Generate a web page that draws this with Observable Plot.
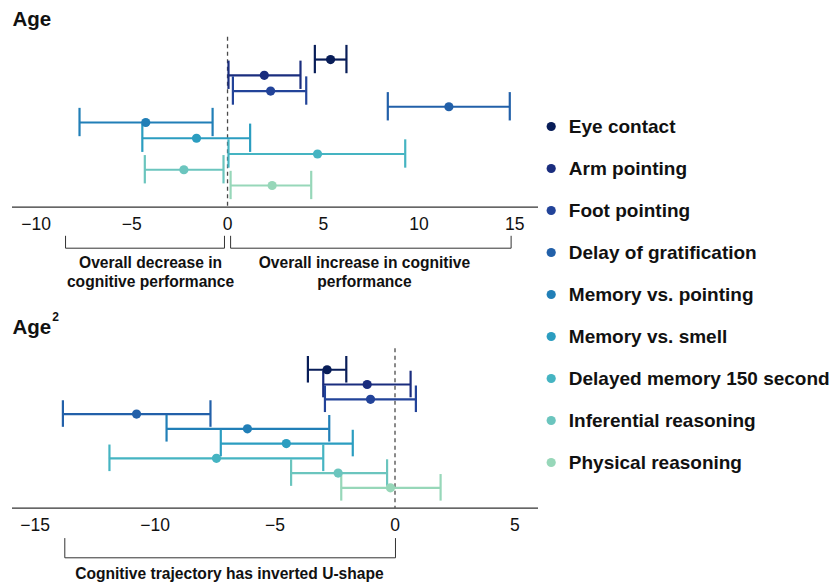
<!DOCTYPE html>
<html>
<head>
<meta charset="utf-8">
<script src="https://cdn.jsdelivr.net/npm/d3@7"></script>
<script src="https://cdn.jsdelivr.net/npm/@observablehq/plot@0.6"></script>
<style>
  html, body { margin: 0; padding: 0; background: #fff; }
  #root { position: relative; width: 829px; height: 583px; overflow: hidden;
          font-family: "Liberation Sans", Arial, Helvetica, sans-serif; color: #111; }
  .title { position: absolute; left: 12.5px; font-weight: bold; font-size: 20.5px; line-height: 20.5px; white-space: nowrap; }
  .title .sup { font-size: 12px; position: relative; top: -13px; margin-left: 1px; }
  .panel { position: absolute; left: 0; }
  #legend { position: absolute; left: 530px; top: 0; }
</style>
</head>
<body>
<div id="root">
  <div class="title" style="top:9.4px">Age</div>
  <div class="panel" id="top" style="top:0"></div>
  <div class="title" style="top:317px">Age<span class="sup">2</span></div>
  <div class="panel" id="bottom" style="top:300px"></div>
  <div id="legend"></div>
</div>
<script>
// ---- Data ----
const categories = [
  "Eye contact", "Arm pointing", "Foot pointing", "Delay of gratification",
  "Memory vs. pointing", "Memory vs. smell", "Delayed memory 150 second",
  "Inferential reasoning", "Physical reasoning"
];
// Age (linear term): estimate with lower / upper interval bounds
const ageEstimate = [5.38, 1.92, 2.25, 11.56, -4.27, -1.62, 4.70, -2.28, 2.33];
const ageLower    = [4.56, 0.05, 0.28, 8.37, -7.73, -4.45, 0.05, -4.32, 0.16];
const ageUpper    = [6.21, 3.81, 4.11, 14.74, -0.78, 1.18, 9.28, -0.21, 4.37];
// Age^2 (quadratic term)
const age2Estimate = [-2.83, -1.16, -1.02, -10.77, -6.15, -4.53, -7.44, -2.37, -0.19];
const age2Lower    = [-3.63, -2.99, -2.92, -13.84, -9.52, -7.26, -11.90, -4.33, -2.24];
const age2Upper    = [-2.03, 0.65, 0.87, -7.69, -2.74, -1.76, -2.99, -0.33, 1.90];
// Axis ticks
const ageTicks  = [-10, -5, 0, 5, 10, 15];
const age2Ticks = [-15, -10, -5, 0, 5];
// Bracket annotations (x extents in data units)
const ageBracketFrom  = [-8.46, 0.16];
const ageBracketTo    = [-0.16, 14.81];
const ageBracketText  = ["Overall decrease in\ncognitive performance", "Overall increase in cognitive\nperformance"];
const ageBracketTextX = [-4.02, 7.15];
const age2BracketFrom  = [-13.76];
const age2BracketTo    = [0.02];
const age2BracketText  = ["Cognitive trajectory has inverted U-shape"];
const age2BracketTextX = [-6.9];

// ---- Styling ----
const FONT = "Liberation Sans, Arial, Helvetica, sans-serif";
const colorRange = categories.map((_, i) => d3.interpolateYlGnBu(1 - i / 12));
const yDomain = [-1.42, 9.38];

function forest(o) {
  const rows = categories.map((name, i) => ({name, row: i, est: o.est[i], lo: o.lo[i], hi: o.hi[i]}));
  const toRow = px => yDomain[0] + (px - o.frameTop) / (o.frameBottom - o.frameTop) * (yDomain[1] - yDomain[0]);
  const bracketPts = [];
  o.bFrom.forEach((f, i) => {
    const t = o.bTo[i];
    bracketPts.push(
      {k: i, x: f, y: toRow(o.bTopPx)},
      {k: i, x: f, y: toRow(o.bBotPx)},
      {k: i, x: t, y: toRow(o.bBotPx)},
      {k: i, x: t, y: toRow(o.bTopPx)}
    );
  });
  const notes = o.bText.map((t, i) => ({text: t, x: o.bTextX[i], y: toRow(o.textPx)}));
  const cap = 0.9;
  return Plot.plot({
    width: 540,
    height: o.height,
    marginLeft: 12,
    marginRight: 2,
    marginTop: o.frameTop,
    marginBottom: o.height - o.frameBottom,
    x: {domain: o.xDomain, ticks: o.ticks},
    y: {domain: yDomain, reverse: true, axis: null},
    color: {domain: categories, range: colorRange},
    style: {fontFamily: FONT, color: "#111", background: "transparent", overflow: "visible"},
    marks: [
      Plot.ruleX([0], {stroke: "#4a4a4a", strokeWidth: 1.3, strokeDasharray: "4,3.5"}),
      Plot.ruleY([yDomain[1]], {stroke: "#333", strokeWidth: 1.3}),
      Plot.axisX({ticks: o.ticks, tickSize: 0, tickPadding: 10, fontSize: 17.5}),
      Plot.ruleY(rows, {y: "row", x1: "lo", x2: "hi", stroke: "name", strokeWidth: 2.2}),
      Plot.ruleX(rows, {x: "lo", y1: d => d.row - cap, y2: d => d.row + cap, stroke: "name", strokeWidth: 2.2}),
      Plot.ruleX(rows, {x: "hi", y1: d => d.row - cap, y2: d => d.row + cap, stroke: "name", strokeWidth: 2.2}),
      Plot.dot(rows, {x: "est", y: "row", fill: "name", r: 4.6}),
      Plot.line(bracketPts, {x: "x", y: "y", z: "k", stroke: "#333", strokeWidth: 1}),
      Plot.text(notes, {x: "x", y: "y", text: "text", fontSize: 15.6, fontWeight: "bold", fill: "#111", lineHeight: 1.22})
    ]
  });
}

document.getElementById("top").appendChild(forest({
  est: ageEstimate, lo: ageLower, hi: ageUpper, ticks: ageTicks,
  xDomain: [-11.23, 16.24], height: 300, frameTop: 36.7, frameBottom: 206.7,
  bFrom: ageBracketFrom, bTo: ageBracketTo, bText: ageBracketText, bTextX: ageBracketTextX,
  bTopPx: 235.7, bBotPx: 247.7, textPx: 270.5
}));

document.getElementById("bottom").appendChild(forest({
  est: age2Estimate, lo: age2Lower, hi: age2Upper, ticks: age2Ticks,
  xDomain: [-15.94, 5.98], height: 283, frameTop: 48.3, frameBottom: 207.7,
  bFrom: age2BracketFrom, bTo: age2BracketTo, bText: age2BracketText, bTextX: age2BracketTextX,
  bTopPx: 238, bBotPx: 257.3, textPx: 272.3
}));

document.getElementById("legend").appendChild(Plot.plot({
  width: 299,
  height: 583,
  margin: 0,
  x: {domain: [0, 1], axis: null},
  y: {type: "point", domain: categories, range: [125.7, 463], padding: 0, axis: null},
  color: {domain: categories, range: colorRange},
  style: {fontFamily: FONT, color: "#111", background: "transparent"},
  marks: [
    Plot.dot(categories, {y: d => d, fill: d => d, frameAnchor: "left", dx: 20.7, r: 4.6}),
    Plot.text(categories, {y: d => d, text: d => d, frameAnchor: "left", dx: 38.3, dy: 0.7,
      textAnchor: "start", fontSize: 19, fontWeight: "bold", fill: "#111"})
  ]
}));
</script>
</body>
</html>
